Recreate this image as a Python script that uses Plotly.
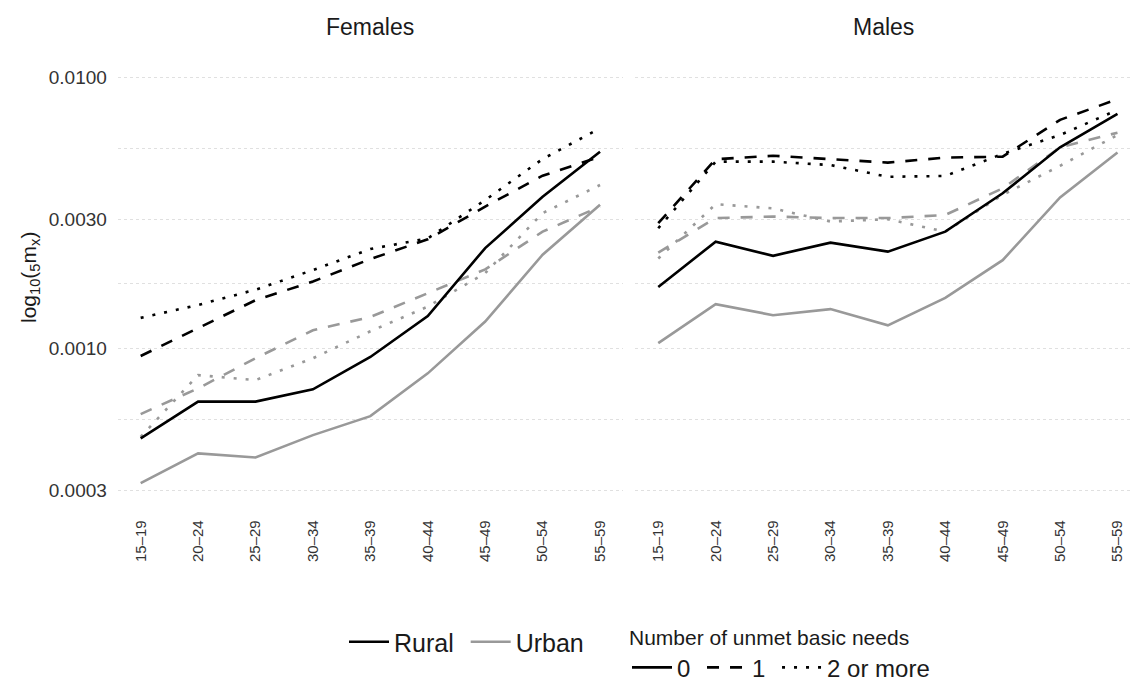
import plotly.graph_objects as go

# Age groups on the x axis
age_groups = ["15–19", "20–24", "25–29", "30–34", "35–39",
              "40–44", "45–49", "50–54", "55–59"]

# Five-year death rates (5mx), Females
fem_rural_0 = [0.000468, 0.000639, 0.000639, 0.000709, 0.000933, 0.00132, 0.00235, 0.00363, 0.00532]
fem_rural_1 = [0.000941, 0.00119, 0.00151, 0.00177, 0.00214, 0.00253, 0.00334, 0.00434, 0.00510]
fem_rural_2 = [0.00130, 0.00145, 0.00165, 0.00195, 0.00233, 0.00255, 0.00353, 0.00500, 0.00649]
fem_urban_0 = [0.000320, 0.000412, 0.000398, 0.000481, 0.000565, 0.000812, 0.00126, 0.00222, 0.00339]
fem_urban_1 = [0.000575, 0.000715, 0.000923, 0.00117, 0.00131, 0.00160, 0.00196, 0.00270, 0.00334]
fem_urban_2 = [0.000474, 0.000800, 0.000767, 0.000923, 0.00116, 0.00143, 0.00190, 0.00316, 0.00401]

# Five-year death rates (5mx), Males
mal_rural_0 = [0.00169, 0.00248, 0.00220, 0.00246, 0.00228, 0.00270, 0.00374, 0.00552, 0.00733]
mal_rural_1 = [0.00290, 0.00499, 0.00514, 0.00499, 0.00485, 0.00506, 0.00510, 0.00697, 0.00830]
mal_rural_2 = [0.00278, 0.00489, 0.00489, 0.00475, 0.00430, 0.00433, 0.00522, 0.00613, 0.00758]
mal_urban_0 = [0.00105, 0.00146, 0.00133, 0.00140, 0.00122, 0.00154, 0.00212, 0.00361, 0.00528]
mal_urban_1 = [0.00226, 0.00303, 0.00307, 0.00303, 0.00303, 0.00311, 0.00390, 0.00552, 0.00625]
mal_urban_2 = [0.00215, 0.00341, 0.00329, 0.00294, 0.00300, 0.00270, 0.00369, 0.00472, 0.00613]

# Y axis breaks (major) and log-midpoint minor breaks
y_ticks = [0.0003, 0.001, 0.003, 0.01]
y_tick_text = ["0.0003", "0.0010", "0.0030", "0.0100"]
y_minor = [0.000548, 0.001733, 0.005483]

# Legend labels
area_labels = ["Rural", "Urban"]
need_labels = ["0", "1", "2 or more"]

BLACK = "#000000"
GREY = "#999999"
LW = 2.6
DASHES = {"0": "solid", "1": "12px,11px", "2 or more": "3px,9px"}
FONT = "Liberation Sans, Arial, sans-serif"
TEXT = "#1a1a1a"
TICK = "#333333"
NBSP = "\u00a0"

W, H = 1132, 686

fig = go.Figure()

panels = [
    ("x", "y", {
        (BLACK, "0"): fem_rural_0, (BLACK, "1"): fem_rural_1, (BLACK, "2 or more"): fem_rural_2,
        (GREY, "0"): fem_urban_0, (GREY, "1"): fem_urban_1, (GREY, "2 or more"): fem_urban_2,
    }),
    ("x2", "y2", {
        (BLACK, "0"): mal_rural_0, (BLACK, "1"): mal_rural_1, (BLACK, "2 or more"): mal_rural_2,
        (GREY, "0"): mal_urban_0, (GREY, "1"): mal_urban_1, (GREY, "2 or more"): mal_urban_2,
    }),
]

for xa, ya, series in panels:
    for colour in (GREY, BLACK):
        for need in need_labels:
            fig.add_trace(go.Scatter(
                x=age_groups, y=series[(colour, need)], mode="lines",
                line=dict(color=colour, width=LW, dash=DASHES[need]),
                xaxis=xa, yaxis=ya, showlegend=False, hoverinfo="skip",
            ))

# Legend entries: area type (colour) and unmet needs (line type)
for i, (name, colour) in enumerate(zip(area_labels, (BLACK, GREY))):
    label = name + (NBSP if i < len(area_labels) - 1 else "")
    fig.add_trace(go.Scatter(x=[None], y=[None], mode="lines", name=label,
                             line=dict(color=colour, width=LW), legend="legend"))
for i, need in enumerate(need_labels):
    label = need + (NBSP if i < len(need_labels) - 1 else "")
    fig.add_trace(go.Scatter(x=[None], y=[None], mode="lines", name=label,
                             line=dict(color=BLACK, width=LW, dash=DASHES[need]),
                             legend="legend2"))

x_common = dict(type="category", categoryorder="array", categoryarray=age_groups,
                showgrid=False, zeroline=False, showline=False,
                tickangle=-90, tickfont=dict(size=15, color=TICK, family=FONT),
                ticks="outside", ticklen=7, tickcolor="rgba(0,0,0,0)")
grid = dict(showgrid=True, gridcolor="#e0e0e0", griddash="dot", gridwidth=1)
y_common = dict(type="log", range=[-3.58, -1.96], domain=[1 - 506.3 / H, 1 - 66.4 / H],
                tickvals=y_ticks, ticktext=y_tick_text, zeroline=False, showline=False,
                minor=dict(tickvals=y_minor, **grid), **grid)

fig.update_layout(
    width=W, height=H, autosize=False,
    margin=dict(l=0, r=0, t=0, b=0, autoexpand=False),
    paper_bgcolor="white", plot_bgcolor="white",
    font=dict(family=FONT, color=TEXT),
    xaxis=dict(domain=[117.7 / W, 623 / W], range=[-0.4, 8.4], anchor="y", **x_common),
    xaxis2=dict(domain=[635.3 / W, 1.0], range=[-0.4, 8.253], anchor="y2", **x_common),
    yaxis=dict(anchor="x", tickfont=dict(size=19, color=TICK, family=FONT),
               ticks="outside", ticklen=6, tickcolor="rgba(0,0,0,0)", **y_common),
    yaxis2=dict(anchor="x2", matches="y", showticklabels=False, **y_common),
    legend=dict(orientation="h", x=344 / W, y=1 - 642 / H, xanchor="left", yanchor="middle",
                font=dict(size=25, family=FONT, color=TEXT), itemwidth=40,
                bgcolor="rgba(0,0,0,0)"),
    legend2=dict(orientation="h", x=627 / W, y=1 - 618 / H, xanchor="left", yanchor="top",
                 font=dict(size=24, family=FONT, color=TEXT), itemwidth=40,
                 bgcolor="rgba(0,0,0,0)",
                 title=dict(text="Number of unmet basic needs", side="top",
                            font=dict(size=21, family=FONT, color=TEXT))),
    annotations=[
        dict(text="Females", x=(117.7 + 623) / 2 / W, y=1 - 27 / H, xref="paper", yref="paper",
             xanchor="center", yanchor="middle", showarrow=False,
             font=dict(size=23, family=FONT, color=TEXT)),
        dict(text="Males", x=(635.3 + 1132) / 2 / W, y=1 - 27 / H, xref="paper", yref="paper",
             xanchor="center", yanchor="middle", showarrow=False,
             font=dict(size=23, family=FONT, color=TEXT)),
        dict(text="log<sub>10</sub>(<sub>5</sub>m<sub>x</sub>)", x=30 / W, y=1 - 278 / H,
             xref="paper", yref="paper", xanchor="center", yanchor="middle",
             showarrow=False, textangle=-90,
             font=dict(size=21, family=FONT, color=TEXT)),
    ],
)

fig.write_html("out.html")
